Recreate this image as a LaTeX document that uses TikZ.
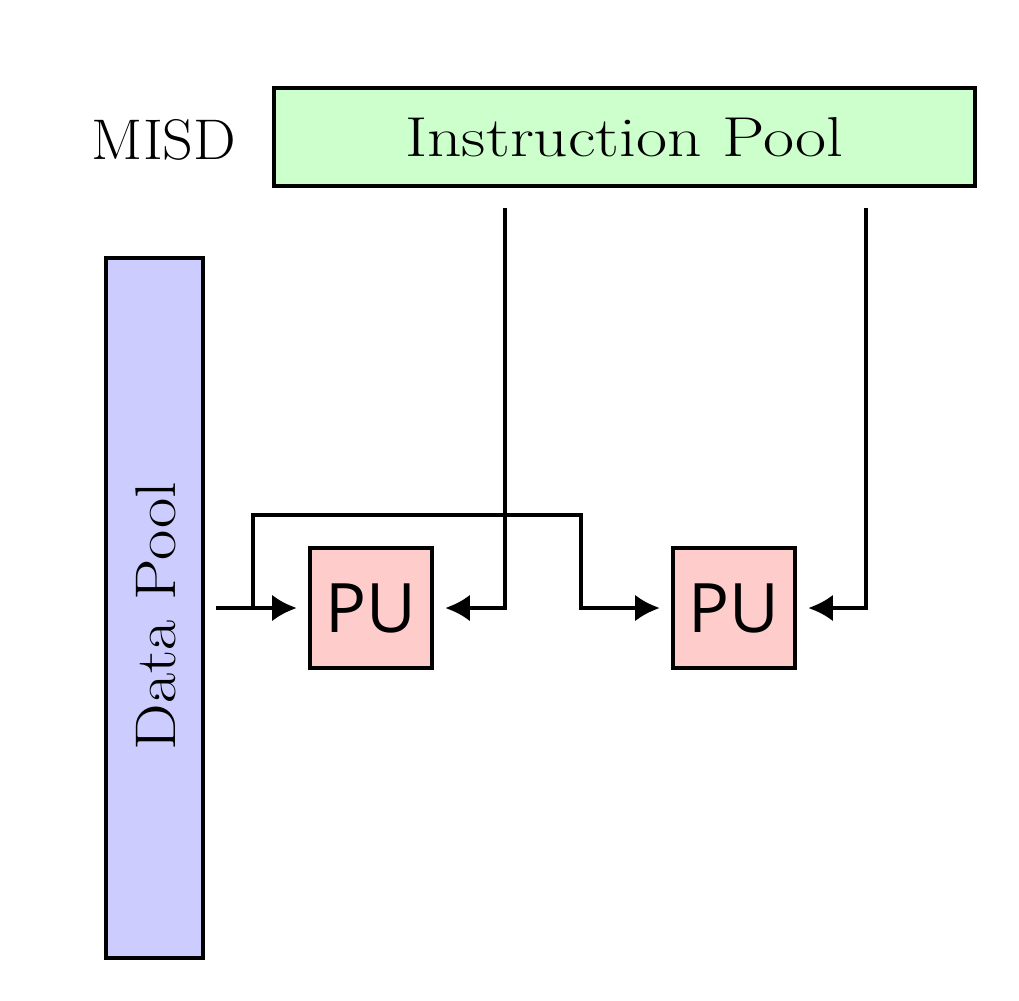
\documentclass[tikz,border=0pt]{standalone}
\usepackage{fontspec}
\newfontfamily\pufont{Open Sans}
\usetikzlibrary{arrows.meta}
\definecolor{ipgreen}{HTML}{CCFFCC}
\definecolor{dpblue}{HTML}{CCCCFF}
\definecolor{pupink}{HTML}{FFCCCC}
\tikzset{
  box/.style={draw=black, line width=1.2pt, inner sep=0pt},
  pubox/.style={box, fill=pupink, minimum width=1.22cm, minimum height=1.20cm,
    font=\pufont\fontsize{19.4}{21}\selectfont},
  conn/.style={line width=1.1pt, -{Latex[length=7pt,width=7.5pt]}},
}
\begin{document}
\begin{tikzpicture}[x=0.01cm,y=-0.01cm]
\useasboundingbox (0,0) rectangle (1019,1000);
\node[box, fill=ipgreen, minimum width=7.01cm, minimum height=0.98cm] (ip) at (624.5,137)
  {\scalebox{1.2}[1]{\fontsize{16}{18}\selectfont Instruction Pool}};
\node (misd) at (164,140) {\scalebox{1.05}[1]{\fontsize{16.3}{18}\selectfont MISD}};
\node[box, fill=dpblue, minimum width=0.97cm, minimum height=7.0cm] (dp) at (154.5,608) {};
\node[rotate=90] (dptext) at (156,616) {\scalebox{1.15}[1]{\fontsize{16.3}{18}\selectfont Data Pool}};
\node[pubox] (pu1) at (371,608) {PU};
\node[pubox] (pu2) at (734,608) {PU};
\coordinate (j) at (253,608);
\coordinate (t) at (581,515);
\coordinate (i1) at (505,208);
\coordinate (i2) at (866,208);
\draw[conn, shorten <=0.11cm, shorten >=0.11cm] (dp.east) -- (pu1.west);
\draw[conn, shorten >=0.11cm] (j) |- (t) |- (pu2.west);
\draw[conn, shorten >=0.11cm] (i1) |- (pu1.east);
\draw[conn, shorten >=0.11cm] (i2) |- (pu2.east);
\end{tikzpicture}
\end{document}
